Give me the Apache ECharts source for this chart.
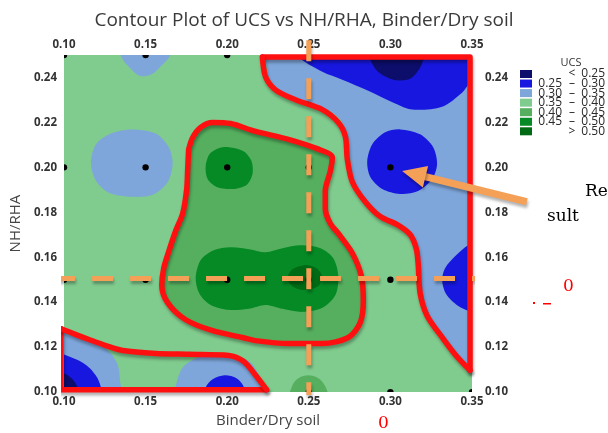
<!DOCTYPE html>
<html>
<head>
<meta charset="utf-8">
<script src="https://cdn.jsdelivr.net/npm/echarts@6/dist/echarts.min.js"></script>
<style>html,body{margin:0;padding:0;background:#fff;}#c{width:608px;height:433px;}</style>
</head>
<body>
<div id="c"></div>
<script>
// ---- design points (factor levels) ----
const designX = [0.10, 0.15, 0.20, 0.25, 0.30, 0.35];
const designY = [0.10, 0.15, 0.20, 0.25];
const xTicks = [0.10, 0.15, 0.20, 0.25, 0.30, 0.35];
const yTicks = [0.10, 0.12, 0.14, 0.16, 0.18, 0.20, 0.22, 0.24];
// ---- UCS contour level breaks (legend) ----
const levelBreaks = [0.25, 0.30, 0.35, 0.40, 0.45, 0.50];

// ---- contour regions (Binder/Dry soil, NH/RHA) ----
const field035 = [[0.09,0.09],[0.36,0.09],[0.36,0.26],[0.09,0.26]];
const lightBlueTop = [[0.134,0.253],[0.136,0.248],[0.140,0.2445],[0.145,0.2412],[0.149,0.2405],[0.154,0.2415],[0.159,0.2448],[0.164,0.2485],[0.166,0.253]];
const lightBlueCircle = [[0.1416,0.2169],[0.1562,0.2151],[0.1642,0.2090],[0.1666,0.2019],[0.1636,0.1935],[0.1544,0.1878],[0.1416,0.1869],[0.1275,0.1887],[0.1196,0.1940],[0.1165,0.2019],[0.1196,0.2103],[0.1287,0.2151]];
const lightBlueRight = [[0.2216,0.2522],[0.2235,0.2478],[0.2253,0.2403],[0.2314,0.2345],[0.2430,0.2306],[0.2589,0.2266],[0.2693,0.2213],[0.2736,0.2138],[0.2754,0.2037],[0.2779,0.1935],[0.2852,0.1851],[0.2938,0.1794],[0.3011,0.1754],[0.3097,0.1723],[0.3158,0.1662],[0.3182,0.1582],[0.3182,0.1450],[0.3225,0.1348],[0.3323,0.1251],[0.3402,0.1176],[0.3476,0.1119],[0.3537,0.1093],[0.3537,0.2522]];
const lightBlueCorner = [[0.0951,0.1273],[0.1104,0.1251],[0.1208,0.1216],[0.1287,0.1172],[0.1330,0.1119],[0.1342,0.1057],[0.1342,0.0978],[0.0951,0.0978]];
const lightBlueBottom = [[0.1685,0.0978],[0.1691,0.1044],[0.1727,0.1110],[0.1807,0.1150],[0.1929,0.1168],[0.2051,0.1163],[0.2143,0.1132],[0.2192,0.1079],[0.2216,0.1022],[0.2216,0.0978]];
const blueTopRight = [[0.2424,0.2522],[0.2436,0.2491],[0.2583,0.2425],[0.2705,0.2390],[0.2864,0.2341],[0.3029,0.2284],[0.3133,0.2257],[0.3317,0.2270],[0.3439,0.2332],[0.3488,0.2376],[0.3537,0.2398],[0.3537,0.2522]];
const blueCircle = [[0.3060,0.2169],[0.3182,0.2147],[0.3262,0.2090],[0.3286,0.2015],[0.3256,0.1948],[0.3170,0.1895],[0.3060,0.1882],[0.2950,0.1904],[0.2877,0.1957],[0.2858,0.2028],[0.2889,0.2103],[0.2968,0.2156]];
const blueRightMid = [[0.3537,0.1670],[0.3476,0.1653],[0.3396,0.1604],[0.3335,0.1551],[0.3317,0.1498],[0.3341,0.1437],[0.3414,0.1384],[0.3476,0.1362],[0.3537,0.1348]];
const blueCorner = [[0.0951,0.1168],[0.1073,0.1146],[0.1153,0.1110],[0.1202,0.1066],[0.1226,0.1022],[0.1232,0.0978],[0.0951,0.0978]];
const blueBottom = [[0.1856,0.0978],[0.1868,0.1022],[0.1911,0.1057],[0.1984,0.1075],[0.2057,0.1062],[0.2100,0.1026],[0.2112,0.0978]];
const navyTopRight = [[0.2864,0.2522],[0.2877,0.2478],[0.2925,0.2425],[0.3017,0.2390],[0.3121,0.2394],[0.3182,0.2443],[0.3207,0.2491],[0.3213,0.2522]];
const navyCorner = [[0.0951,0.1084],[0.1012,0.1079],[0.1061,0.1049],[0.1086,0.1013],[0.1092,0.0978],[0.0951,0.0978]];
const greenCentral = [[0.1764,0.2081],[0.1789,0.2134],[0.1837,0.2178],[0.1911,0.2200],[0.2021,0.2195],[0.2174,0.2160],[0.2375,0.2125],[0.2559,0.2081],[0.2644,0.2045],[0.2632,0.1984],[0.2601,0.1895],[0.2601,0.1816],[0.2632,0.1750],[0.2681,0.1706],[0.2767,0.1618],[0.2822,0.1516],[0.2834,0.1406],[0.2815,0.1309],[0.2742,0.1243],[0.2583,0.1216],[0.2375,0.1216],[0.2174,0.1229],[0.2094,0.1243],[0.1911,0.1273],[0.1746,0.1322],[0.1636,0.1397],[0.1599,0.1476],[0.1611,0.1551],[0.1642,0.1626],[0.1685,0.1719],[0.1727,0.1794],[0.1752,0.1904],[0.1758,0.1993]];
const greenBottom = [[0.2387,0.0978],[0.2400,0.1031],[0.2436,0.1062],[0.2497,0.1075],[0.2559,0.1062],[0.2601,0.1026],[0.2614,0.0978]];
const darkGreenCircle = [[0.2009,0.2090],[0.2100,0.2072],[0.2149,0.2028],[0.2155,0.1970],[0.2119,0.1922],[0.2033,0.1904],[0.1935,0.1913],[0.1880,0.1948],[0.1868,0.2006],[0.1892,0.2059],[0.1947,0.2085]];
const darkGreenBand = [[0.1807,0.1507],[0.1837,0.1587],[0.1917,0.1631],[0.2021,0.1644],[0.2143,0.1635],[0.2235,0.1622],[0.2339,0.1640],[0.2449,0.1653],[0.2571,0.1640],[0.2650,0.1596],[0.2681,0.1516],[0.2663,0.1432],[0.2583,0.1375],[0.2461,0.1357],[0.2339,0.1371],[0.2235,0.1388],[0.2131,0.1371],[0.2009,0.1366],[0.1899,0.1388],[0.1831,0.1437]];
const darkestCore = [[0.2479,0.1565],[0.2547,0.1551],[0.2583,0.1512],[0.2559,0.1472],[0.2479,0.1454],[0.2406,0.1468],[0.2369,0.1507],[0.2400,0.1547]];

// level index (0 = "< 0.25" ... 6 = "> 0.50") of each region, in drawing order
const regionList = [field035, lightBlueTop, lightBlueCircle, lightBlueRight, lightBlueCorner, lightBlueBottom,
  blueTopRight, blueCircle, blueRightMid, blueCorner, blueBottom, navyTopRight, navyCorner,
  greenCentral, greenBottom, darkGreenCircle, darkGreenBand, darkestCore];
const regionLevel = [3, 2, 2, 2, 2, 2, 1, 1, 1, 1, 1, 0, 0, 4, 4, 5, 5, 6];

// ---- annotations (hand-drawn on the picture) ----
const redRightEdge = [[0.2216,0.2491],[0.3488,0.2491],[0.3488,0.1097]];
const redRightCurve = [[0.3488,0.1097],[0.3402,0.1163],[0.3323,0.1238],[0.3225,0.1340],[0.3182,0.1441],[0.3170,0.1573],[0.3158,0.1640],[0.3121,0.1701],[0.3042,0.1745],[0.2938,0.1781],[0.2846,0.1847],[0.2767,0.1935],[0.2736,0.2037],[0.2724,0.2138],[0.2681,0.2200],[0.2583,0.2257],[0.2418,0.2301],[0.2296,0.2345],[0.2235,0.2403],[0.2216,0.2491]];
const redLeftEdge = [[0.0982,0.1282],[0.0982,0.1011],[0.2241,0.1011]];
const redLeftCurve = [[0.0982,0.1282],[0.1073,0.1256],[0.1153,0.1234],[0.1257,0.1207],[0.1361,0.1185],[0.1562,0.1172],[0.1764,0.1168],[0.2009,0.1163],[0.2100,0.1137],[0.2174,0.1075],[0.2241,0.1011]];
const orangeVertical = [[0.25,0.2566],[0.25,0.0987]];
const orangeHorizontal = [[0.0939,0.1505],[0.358,0.1505]];
const arrowTail = [0.3836, 0.1847];
const arrowTip = [0.3072, 0.1984];

const levelColors = ['#0d0d6b', '#1717df', '#7ea6da', '#80cb8e', '#55af5f', '#068a25', '#006b14'];
const RED = '#ff1010', ORANGE = '#f5a057';

const chart = echarts.init(document.getElementById('c'), null, {renderer: 'canvas'});

const axisLabelStyle = {fontFamily: 'Open Sans', fontSize: 11.5, fontWeight: 'bold', color: '#333'};
const fmt = v => Number(v).toFixed(2);

const designPoints = [];
designY.forEach(y => designX.forEach(x => designPoints.push([x, y])));

// legend graphics
const legendEls = [{type: 'text', x: 571, y: 63, style: {text: 'UCS', fontFamily: 'Open Sans', fontSize: 11, fill: '#333', align: 'center', verticalAlign: 'middle'}}];
for (let i = 0; i < 7; i++) {
  const cy = 74 + i * 9.55;
  legendEls.push({type: 'rect', shape: {x: 520, y: cy - 4, width: 12, height: 8}, style: {fill: levelColors[i]}});
  let lo = '', mid = '\u2013', hi = '';
  if (i === 0) { mid = '<'; hi = fmt(levelBreaks[0]); }
  else if (i === 6) { mid = '>'; hi = fmt(levelBreaks[5]); }
  else { lo = fmt(levelBreaks[i - 1]); hi = fmt(levelBreaks[i]); }
  const ts = {fontFamily: 'Open Sans', fontSize: 12, fill: '#2a2a2a', verticalAlign: 'middle'};
  if (lo) legendEls.push({type: 'text', x: 562, y: cy, style: Object.assign({text: lo, align: 'right'}, ts)});
  legendEls.push({type: 'text', x: 572, y: cy, style: Object.assign({text: mid, align: 'center'}, ts)});
  legendEls.push({type: 'text', x: 605, y: cy, style: Object.assign({text: hi, align: 'right'}, ts)});
}

const shadow = {shadowColor: 'rgba(0,0,0,0.3)', shadowBlur: 3, shadowOffsetX: 1, shadowOffsetY: 3};

function redLine(data, smooth) {
  return {type: 'line', data: data, smooth: smooth, showSymbol: false, symbol: 'none', clip: false, z: 5, silent: true,
    lineStyle: Object.assign({color: RED, width: 5.5, cap: 'round', join: 'round'}, shadow)};
}
function orangeLine(data) {
  return {type: 'line', data: data, showSymbol: false, symbol: 'none', clip: false, z: 6, silent: true,
    lineStyle: Object.assign({color: ORANGE, width: 5, type: [21, 17]}, shadow)};
}

chart.setOption({
  animation: false,
  backgroundColor: '#ffffff',
  title: {text: 'Contour Plot of UCS vs NH/RHA, Binder/Dry soil', left: 'center', top: 6,
    textStyle: {fontFamily: 'Open Sans', fontSize: 19, fontWeight: 'normal', color: '#3a3a3a'}},
  grid: {left: 63, right: 136, top: 55, bottom: 38},
  xAxis: [
    {type: 'value', position: 'bottom', min: xTicks[0], max: xTicks[xTicks.length - 1], interval: 0.05,
      name: 'Binder/Dry soil', nameLocation: 'middle', nameGap: 16,
      nameTextStyle: {fontFamily: 'Open Sans', fontSize: 15, color: '#444'},
      axisLine: {show: false}, axisTick: {show: false}, splitLine: {show: false},
      axisLabel: Object.assign({margin: 4, formatter: fmt}, axisLabelStyle)},
    {type: 'value', position: 'top', min: xTicks[0], max: xTicks[xTicks.length - 1], interval: 0.05,
      axisLine: {show: false}, axisTick: {show: false}, splitLine: {show: false},
      axisLabel: Object.assign({margin: 4, formatter: fmt}, axisLabelStyle)}
  ],
  yAxis: [
    {type: 'value', position: 'left', min: yTicks[0], max: 0.25, interval: 0.02,
      name: 'NH/RHA', nameLocation: 'middle', nameGap: 41, nameRotate: 90,
      nameTextStyle: {fontFamily: 'Open Sans', fontSize: 15, color: '#444'},
      axisLine: {show: false}, axisTick: {show: false}, splitLine: {show: false},
      axisLabel: Object.assign({margin: 7, formatter: fmt, showMaxLabel: false}, axisLabelStyle)},
    {type: 'value', position: 'right', min: yTicks[0], max: 0.25, interval: 0.02,
      axisLine: {show: false}, axisTick: {show: false}, splitLine: {show: false},
      axisLabel: Object.assign({margin: 13, formatter: fmt, showMaxLabel: false}, axisLabelStyle)}
  ],
  graphic: legendEls.concat([
    {type: 'text', x: 585, y: 192, style: {text: 'Re', fontFamily: 'DejaVu Serif', fontSize: 17, fill: '#000', verticalAlign: 'middle'}},
    {type: 'text', x: 547, y: 217, style: {text: 'sult', fontFamily: 'DejaVu Serif', fontSize: 17, fill: '#000', verticalAlign: 'middle'}},
    {type: 'text', x: 563, y: 287, style: {text: '0', fontFamily: 'DejaVu Serif', fontSize: 17, fill: '#ff0000', verticalAlign: 'middle'}},
    {type: 'text', x: 378, y: 424, style: {text: '0', fontFamily: 'DejaVu Serif', fontSize: 17, fill: '#ff0000', verticalAlign: 'middle'}},
    {type: 'rect', shape: {x: 533, y: 302, width: 2, height: 2}, style: {fill: '#ff0000'}},
    {type: 'rect', shape: {x: 543, y: 303, width: 8, height: 1.5}, style: {fill: '#ff0000'}}
  ]),
  series: [
    {type: 'custom', name: 'UCS contours', clip: true, z: 1, silent: true,
      data: regionList.map((r, i) => [0.2, 0.17, i]),
      encode: {x: 0, y: 1},
      renderItem: function (params, api) {
        const idx = api.value(2);
        const pts = regionList[idx].map(p => api.coord(p));
        return {type: 'polygon', shape: {points: pts, smooth: pts.length > 4 ? 0.3 : 0},
          style: {fill: levelColors[regionLevel[idx]], stroke: null}};
      }},
    {type: 'custom', name: 'design points', clip: true, z: 2, silent: true,
      data: designPoints, encode: {x: 0, y: 1},
      renderItem: function (params, api) {
        const c = api.coord([api.value(0), api.value(1)]);
        return {type: 'circle', shape: {cx: c[0], cy: c[1], r: 3.2}, style: {fill: '#000'}};
      }},
    redLine(redRightEdge, false),
    redLine(redRightCurve, 0.3),
    redLine(greenCentral.concat([greenCentral[0]]), 0.3),
    redLine(redLeftEdge, false),
    redLine(redLeftCurve, 0.3),
    orangeLine(orangeVertical),
    orangeLine(orangeHorizontal),
    {type: 'custom', name: 'arrow', clip: false, z: 7, silent: true,
      data: [[arrowTail[0], arrowTail[1], arrowTip[0], arrowTip[1]]],
      encode: {x: [0, 2], y: [1, 3]},
      renderItem: function (params, api) {
        const a = api.coord([api.value(0), api.value(1)]);
        const b = api.coord([api.value(2), api.value(3)]);
        const dx = b[0] - a[0], dy = b[1] - a[1];
        const len = Math.sqrt(dx * dx + dy * dy);
        const ux = dx / len, uy = dy / len;
        const headLen = 24, headHalf = 11;
        const bx = b[0] - ux * headLen, by = b[1] - uy * headLen;
        return {type: 'group', children: [
          {type: 'line', shape: {x1: a[0], y1: a[1], x2: bx + ux * 2, y2: by + uy * 2},
            style: Object.assign({stroke: ORANGE, lineWidth: 7}, shadow)},
          {type: 'polygon', shape: {points: [[b[0], b[1]], [bx - uy * headHalf, by + ux * headHalf], [bx + uy * headHalf, by - ux * headHalf]]},
            style: Object.assign({fill: ORANGE}, shadow)}
        ]};
      }}
  ]
});
</script>
</body>
</html>
